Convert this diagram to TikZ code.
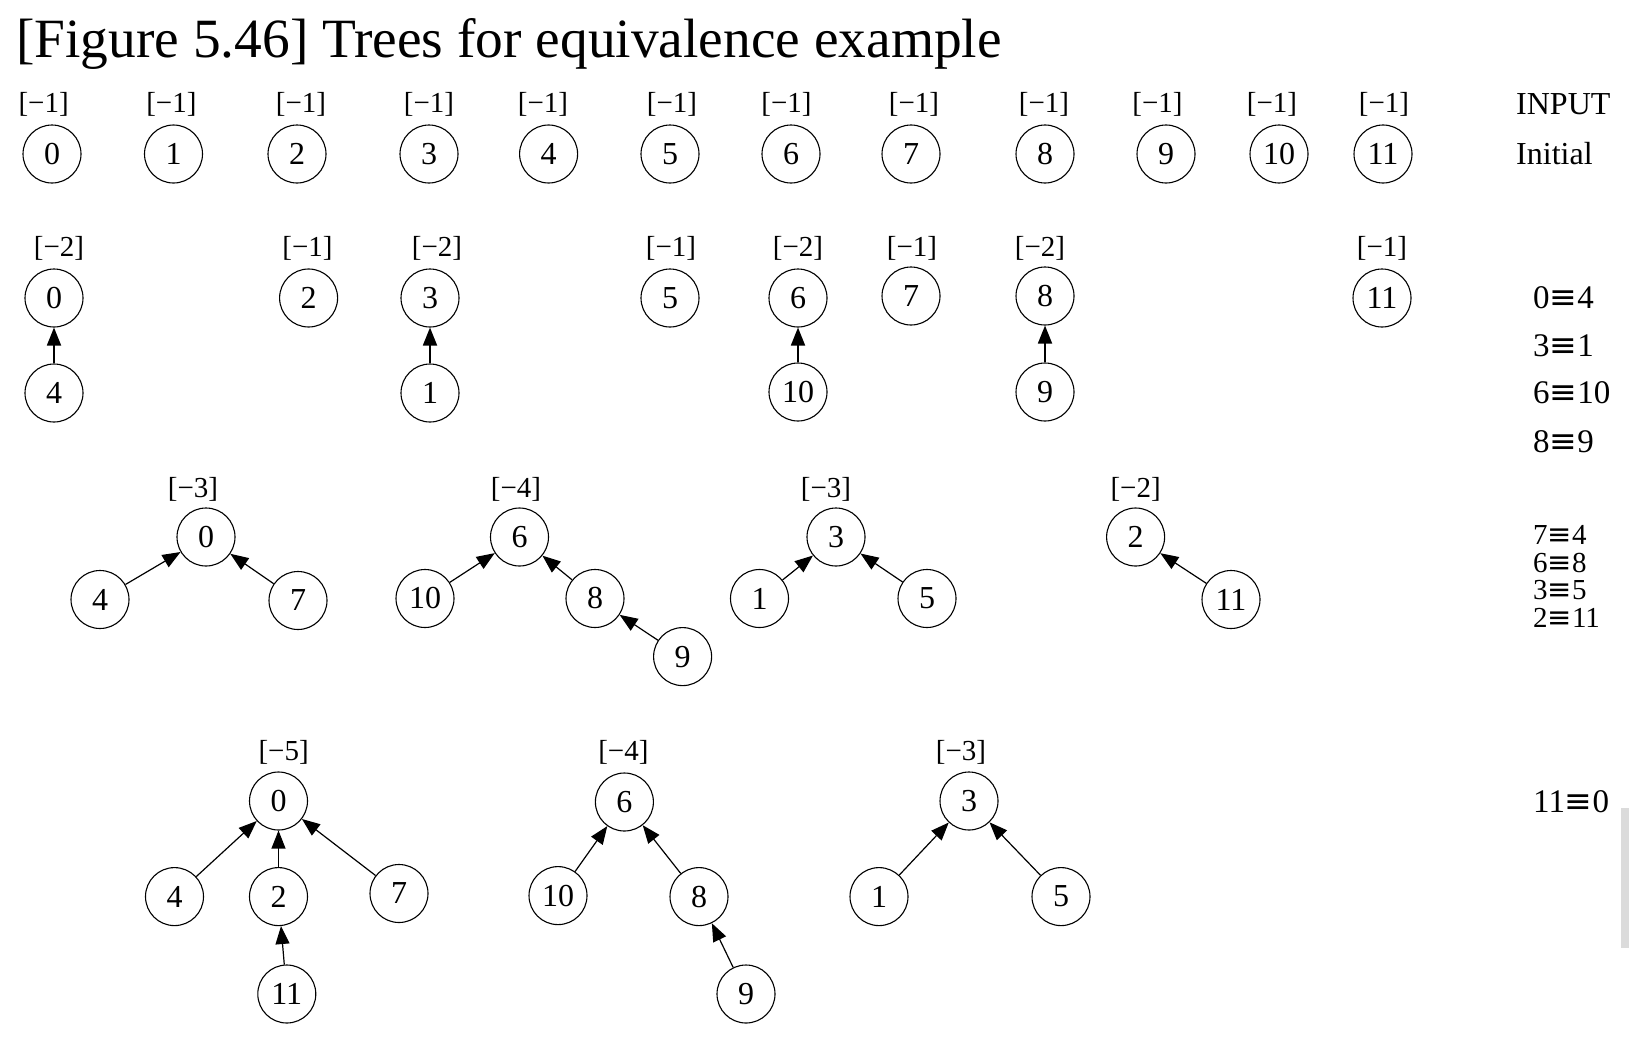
\documentclass[tikz,border=0pt]{standalone}
\usepackage{fontspec}
\setmainfont{Liberation Serif}
\newfontfamily\symfont{DejaVu Sans}
\usetikzlibrary{arrows.meta}
\newcommand{\eqv}{{\symfont ≡}}
\begin{document}
\begin{tikzpicture}[x=1pt,y=-1pt,
  nd/.style={circle, draw, line width=1.1pt, minimum size=58pt, inner sep=0pt, font=\fontsize{32}{34}\selectfont},
  lbl/.style={font=\fontsize{29}{31}\selectfont, inner sep=0pt},
  side/.style={anchor=west, font=\fontsize{33}{35}\selectfont, inner sep=0pt},
  stack/.style={anchor=west, font=\fontsize{29}{31}\selectfont, inner sep=0pt},
  hdr/.style={anchor=west, font=\fontsize{32}{34}\selectfont, inner sep=0pt},
  arr/.style={-{Triangle[length=18pt,width=14pt]}, line width=1.2pt},
  varr/.style={-{Triangle[length=18pt,width=14pt]}, line width=1.8pt}]
\useasboundingbox (0,0) rectangle (1629,1057);
% title
\node[anchor=base west, inner sep=0pt, font=\fontsize{55.4}{60}\selectfont] (title) at (16,57) {[Figure 5.46] Trees for equivalence example};
% scrollbar remnant
\fill[black!14] (1621,808) rectangle (1629,948);
% row 1
\foreach \i/\x/\lx in {0/52/43.6, 1/173.5/171.4, 2/297/301, 3/429/429, 4/548.6/543, 5/670/672, 6/791/786.5, 7/911/914, 8/1045/1044, 9/1166/1157.5, 10/1279/1272, 11/1383/1384}{
  \node[lbl] (r1l\i) at (\lx,104) {[−1]};
  \node[nd] (r1n\i) at (\x,154) {\i};
}
\node[hdr] (input) at (1516,104) {INPUT};
\node[hdr] (initial) at (1516,154) {Initial};
% row 2
\node[lbl] (r2l0) at (59,248) {[−2]};
\node[nd] (r2n0) at (54,298) {0};
\node[nd] (r2n4) at (54,393) {4};
\node[lbl] (r2l2) at (307.5,248) {[−1]};
\node[nd] (r2n2) at (308.6,298) {2};
\node[lbl] (r2l3) at (437,248) {[−2]};
\node[nd] (r2n3) at (430,298) {3};
\node[nd] (r2n1) at (430,393) {1};
\node[lbl] (r2l5) at (671,248) {[−1]};
\node[nd] (r2n5) at (670,298) {5};
\node[lbl] (r2l6) at (798,248) {[−2]};
\node[nd] (r2n6) at (798,298) {6};
\node[nd] (r2n10) at (798,392) {10};
\node[lbl] (r2l7) at (912,248) {[−1]};
\node[nd] (r2n7) at (911,296) {7};
\node[lbl] (r2l8) at (1040,248) {[−2]};
\node[nd] (r2n8) at (1045,296) {8};
\node[nd] (r2n9) at (1045,392) {9};
\node[lbl] (r2l11) at (1382,248) {[−1]};
\node[nd] (r2n11) at (1382,298) {11};
\draw[varr] (r2n4) -- (r2n0);
\draw[varr] (r2n1) -- (r2n3);
\draw[varr] (r2n10) -- (r2n6);
\draw[varr] (r2n9) -- (r2n8);
\node[side] (q1) at (1533,298) {0\eqv4};
\node[side] (q2) at (1533,346) {3\eqv1};
\node[side] (q3) at (1533,393) {6\eqv10};
\node[side] (q4) at (1533,442) {8\eqv9};
% row 3
\node[lbl] (al) at (193,489) {[−3]};
\node[nd] (a0) at (206,537) {0};
\node[nd] (a4) at (100,599.5) {4};
\node[nd] (a7) at (298,600.5) {7};
\draw[arr] (a4) -- (a0);
\draw[arr] (a7) -- (a0);
\node[lbl] (bl) at (516,489) {[−4]};
\node[nd] (b6) at (519.5,537) {6};
\node[nd] (b10) at (425,598.5) {10};
\node[nd] (b8) at (595,598.5) {8};
\node[nd] (b9) at (682.6,656.6) {9};
\draw[arr] (b10) -- (b6);
\draw[arr] (b8) -- (b6);
\draw[arr] (b9) -- (b8);
\node[lbl] (cl) at (826,489) {[−3]};
\node[nd] (c3) at (836,537) {3};
\node[nd] (c1) at (759.5,598.5) {1};
\node[nd] (c5) at (927,598.5) {5};
\draw[arr] (c1) -- (c3);
\draw[arr] (c5) -- (c3);
\node[lbl] (dl) at (1135.6,489) {[−2]};
\node[nd] (d2) at (1135.6,537) {2};
\node[nd] (d11) at (1231,599.5) {11};
\draw[arr] (d11) -- (d2);
\node[stack] (q5) at (1533,535) {7\eqv4};
\node[stack] (q6) at (1533,562.5) {6\eqv8};
\node[stack] (q7) at (1533,590) {3\eqv5};
\node[stack] (q8) at (1533,617.5) {2\eqv11};
% row 4
\node[lbl] (el) at (283.6,752) {[−5]};
\node[nd] (e0) at (278.5,801) {0};
\node[nd] (e4) at (174.5,896.6) {4};
\node[nd] (e2) at (278.5,896.6) {2};
\node[nd] (e7) at (399,893.5) {7};
\node[nd] (e11) at (286.8,994) {11};
\draw[arr] (e4) -- (e0);
\draw[arr] (e2) -- (e0);
\draw[arr] (e7) -- (e0);
\draw[arr] (e11) -- (e2);
\node[lbl] (fl) at (623.4,752) {[−4]};
\node[nd] (f6) at (624.4,802) {6};
\node[nd] (f10) at (558,895.6) {10};
\node[nd] (f8) at (699,896.6) {8};
\node[nd] (f9) at (746,994) {9};
\draw[arr] (f10) -- (f6);
\draw[arr] (f8) -- (f6);
\draw[arr] (f9) -- (f8);
\node[lbl] (gl) at (961,752) {[−3]};
\node[nd] (g3) at (969,801) {3};
\node[nd] (g1) at (879,896.6) {1};
\node[nd] (g5) at (1061,896.6) {5};
\draw[arr] (g1) -- (g3);
\draw[arr] (g5) -- (g3);
\node[side] (q9) at (1533,802) {11\eqv0};
\end{tikzpicture}
\end{document}
